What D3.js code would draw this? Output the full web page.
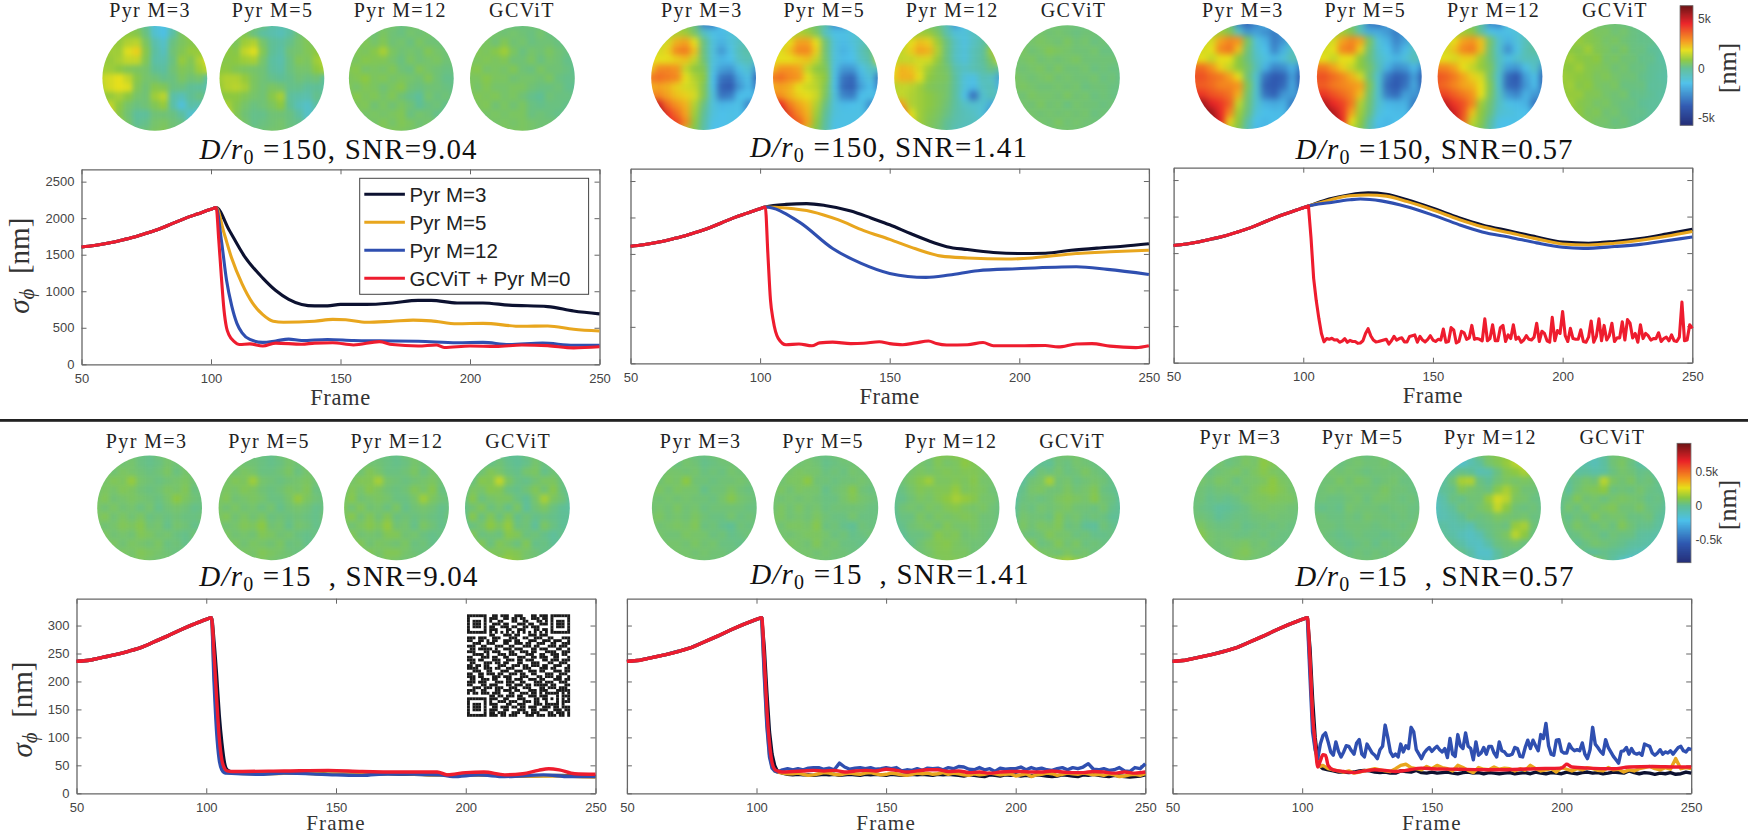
<!DOCTYPE html>
<html>
<head>
<meta charset="utf-8">
<title>Wavefront error over frames</title>
<script src="https://d3js.org/d3.v7.min.js"></script>
<style>
	html, body { margin: 0; padding: 0; background: #fff; }
	svg { display: block; }
	text { white-space: pre; }
</style>
</head>
<body>
<div id="chart"></div>
<script>
// ticks and labels
const frameTicks = [50, 100, 150, 200, 250];
const topTicks = [0, 500, 1000, 1500, 2000, 2500];
const bottomTicks = [0, 50, 100, 150, 200, 250, 300];
const mapLabels = ["Pyr M=3", "Pyr M=5", "Pyr M=12", "GCViT"];
const legendLabels = ["Pyr M=3", "Pyr M=5", "Pyr M=12", "GCViT + Pyr M=0"];
const seriesColors = ["#0c1130", "#e8a61e", "#2f4fb0", "#ee1c2e"];

// open loop part, the same in every panel of a row
const topRamp = [[50,1605],[55,1625],[60,1656],[65,1695],[70,1738],[75,1793],[80,1852],[85,1925],[90,1998],[95,2060],[100,2121]];
const bottomRamp = [[50,236],[55,238],[60,243],[65,248],[70,254],[75,261],[80,271],[85,281],[90,292],[95,302],[100,311]];

// D/r0=150, SNR=9.04
const p1Black = [[102,2144],[107,1838],[113,1474],[120,1180],[125,1010],[130,890],[135,820],[140,800],[145,800],[150,820],[160,820],[170,840],[180,875],[185,875],[195,840],[205,840],[215,810],[230,790],[240,730],[250,690]];
const p1Orange = [[102,2144],[105,1800],[108,1450],[112,1100],[116,840],[120,680],[124,590],[128,575],[140,590],[147,615],[152,610],[160,575],[170,590],[178,605],[185,595],[195,555],[205,560],[220,520],[230,525],[240,480],[250,455]];
const p1Blue = [[102,2144],[104,1700],[106,1150],[108,800],[110,560],[112,430],[115,340],[120,300],[125,320],[130,345],[135,325],[145,340],[155,325],[165,320],[180,315],[195,295],[205,300],[215,270],[228,290],[240,260],[250,260]];
const p1Red = [[102,2144],[103,1700],[104,1200],[105,750],[106,500],[107,400],[109,310],[111,270],[115,280],[120,250],[125,290],[135,275],[140,290],[147,295],[155,265],[165,310],[170,270],[180,250],[187,265],[190,230],[200,250],[210,245],[220,265],[230,255],[240,225],[250,240]];

// D/r0=150, SNR=1.41
const p2Black = [[102,2144],[110,2180],[118,2190],[125,2165],[135,2090],[143,1990],[150,1900],[158,1780],[165,1680],[172,1600],[180,1560],[190,1520],[200,1505],[210,1510],[220,1550],[230,1580],[240,1605],[250,1640]];
const p2Orange = [[102,2144],[110,2130],[120,2080],[130,1970],[140,1820],[150,1700],[160,1570],[170,1470],[180,1445],[195,1430],[205,1445],[220,1500],[235,1530],[250,1550]];
const p2Blue = [[102,2144],[115,1940],[128,1575],[139,1370],[150,1233],[164,1178],[173,1210],[184,1270],[199,1297],[222,1324],[234,1288],[250,1219]];
const p2Red = [[102,2144],[103,1500],[104,870],[105,600],[107,342],[110,255],[115,265],[120,240],[123,280],[128,290],[135,270],[140,275],[146,295],[150,270],[155,255],[160,280],[165,305],[168,270],[172,250],[180,255],[186,285],[190,240],[200,240],[210,245],[215,225],[222,265],[228,270],[235,235],[245,215],[250,240]];

// D/r0=150, SNR=0.57
const p3Black = [[102,2144],[110,2240],[118,2300],[125,2325],[132,2305],[140,2230],[150,2114],[160,1985],[169,1886],[180,1800],[190,1720],[200,1650],[210,1635],[220,1660],[230,1700],[240,1760],[250,1826]];
const p3Orange = [[102,2144],[110,2225],[118,2285],[125,2295],[132,2280],[140,2205],[150,2090],[160,1960],[169,1860],[180,1775],[190,1695],[200,1625],[210,1612],[220,1635],[230,1675],[240,1730],[250,1795]];
const p3Blue = [[102,2144],[110,2190],[118,2230],[122,2240],[130,2215],[140,2135],[150,2020],[160,1890],[169,1790],[180,1715],[190,1640],[200,1580],[208,1565],[220,1590],[230,1620],[240,1670],[250,1720]];
const p3RedDrop = [[102,2144],[103,1700],[104,1155],[105,850],[106,607],[107,400]];
const p3RedTail = [285,330,320,335,310,315,280,295,330,280,305,290,290,265,270,300,400,465,370,310,285,290,300,310,320,255,300,360,310,330,340,285,285,360,370,380,280,360,310,285,320,370,310,290,320,310,460,280,290,480,450,270,290,430,410,320,340,510,320,330,320,300,600,300,330,520,300,300,480,510,290,380,330,520,320,350,280,310,370,320,310,350,540,290,430,400,300,280,620,300,440,400,700,370,290,470,330,320,320,450,290,280,350,570,280,360,600,300,510,310,370,540,290,340,340,560,310,590,540,340,400,280,520,330,400,370,310,330,330,410,290,330,350,300,380,300,290,350,830,300,310,520,470,310];

// D/r0=15, SNR=9.04
const p4Black = [[102,314],[103,270],[104,210],[105,140],[106,90],[107,55],[108,42],[110,38],[120,36],[135,37],[150,34],[170,35],[190,33],[205,33],[220,31],[235,32],[250,30]];
const p4Orange = [[102,314],[103,220],[104,130],[105,70],[106,46],[107,38],[110,36],[120,35],[135,36],[150,34],[170,36],[190,33],[205,33],[220,31],[235,31],[250,29]];
const p4Blue = [[102,314],[103,200],[104,110],[105,60],[106,42],[107,37],[108,36],[120,34],[130,36],[150,33],[160,32],[170,35],[190,33],[195,30],[205,33],[215,30],[230,33],[240,30],[250,30]];
const p4Red = [[102,314],[103,250],[104,170],[105,100],[106,60],[107,45],[108,40],[110,39],[130,40],[147,41],[160,39],[175,38],[189,38],[193,33],[200,37],[207,38],[215,33],[222,35],[228,41],[232,44],[236,42],[242,35],[250,34]];

// D/r0=15, SNR=1.41, the tails are read every second frame
const p5BlackDrop = [[102,314],[103,260],[104,180],[105,110],[106,70],[107,50]];
const p5OrangeDrop = [[102,314],[103,220],[104,125],[105,70],[106,48],[107,40]];
const p5BlueDrop = [[102,314],[103,210],[104,120],[105,65],[106,45],[107,40]];
const p5RedDrop = [[102,314],[103,240],[104,150],[105,90],[106,55],[107,43]];
const p5BlackTail = [40,36,34,33,34,33,33,32,33,34,33,34,32,33,34,33,32,34,33,34,33,32,34,33,32,33,34,33,34,33,32,34,33,34,33,32,31,33,32,31,30,33,32,31,33,32,33,31,32,31,33,32,31,30,31,33,32,31,30,33,32,34,32,31,30,32,31,30,29,30,31,33];
const p5OrangeTail = [38,36,35,35,36,34,32,33,35,37,36,34,33,35,36,35,34,36,37,35,33,34,36,35,33,32,34,36,35,36,34,35,37,34,36,35,33,32,35,33,34,36,35,33,34,35,31,33,35,30,33,34,36,35,32,34,36,35,34,36,35,33,34,32,35,33,30,31,33,34,32,35];
const p5BlueTail = [38,42,44,42,44,42,45,46,46,43,45,42,54,47,43,45,46,44,46,43,44,46,44,46,40,42,41,44,41,45,44,45,42,46,44,48,47,43,42,46,42,44,39,45,43,44,44,47,42,46,43,45,42,41,44,46,42,46,44,47,53,43,42,44,41,42,46,40,39,46,44,53];
const p5Red = [[108,40],[110,38],[114,39],[118,40],[122,41],[126,40],[130,41],[134,38],[138,40],[142,41],[146,40],[150,43],[154,41],[158,38],[162,40],[166,42],[170,42],[174,39],[178,40],[182,37],[186,38],[190,36],[194,38],[198,39],[202,39],[206,38],[210,38],[214,40],[218,38],[222,37],[226,37],[230,39],[234,38],[238,36],[242,38],[246,36],[250,38]];

// D/r0=15, SNR=0.57
const p6BlackDrop = [[102,314],[103,260],[104,170],[105,100],[106,60],[107,48]];
const p6OrangeDrop = [[102,314],[103,230],[104,130],[105,80],[106,52],[107,48]];
const p6BlueDrop = [[102,314],[103,210],[104,110],[105,78]];
const p6Red = [[102,314],[103,240],[104,140],[105,90],[106,47],[107,58],[108,69],[109,68],[110,50],[112,42],[116,39],[120,37],[124,40],[128,42],[132,41],[136,39],[140,41],[146,45],[150,44],[160,43],[175,42],[190,44],[200,45],[202,52],[204,47],[210,45],[220,44],[226,47],[235,48],[245,47],[250,47]];
const p6BlackTail = [44,42,40,38,38,37,38,40,41,40,38,37,38,36,36,40,39,38,41,37,36,38,36,37,38,36,35,37,38,36,37,35,37,36,35,36,37,35,36,37,35,38,36,35,37,36,35,38,36,35,37,38,36,37,35,36,38,37,36,40,37,35,37,36,34,36,35,37,34,35,38,36,38];
const p6OrangeTail = [50,44,42,40,38,40,36,38,40,42,44,42,40,39,44,50,52,46,44,42,48,44,50,46,44,40,50,46,41,37,46,43,42,47,43,45,44,40,44,41,50,44,40,42,44,38,46,43,40,44,42,46,44,41,40,46,42,43,38,42,40,44,46,48,44,42,46,43,62,44,46,44,44];
const p6BlueTail = [62,88,103,108,92,74,68,92,75,65,74,85,84,76,70,90,96,70,65,88,80,72,68,62,78,84,122,100,74,66,70,65,88,74,85,80,118,110,78,70,62,72,78,82,75,80,84,78,74,80,64,98,70,66,105,85,80,108,84,80,60,92,68,72,82,70,84,84,72,65,92,76,74,68,68,70,82,80,66,65,82,95,80,95,85,76,105,98,125,85,70,68,95,96,75,72,72,88,80,76,78,76,90,70,62,78,118,88,82,75,70,96,82,74,66,60,54,75,76,82,70,80,72,70,72,68,88,86,84,72,68,72,78,70,74,72,76,70,76,82,84,76,74,80,78];

// phase maps, tenths of a colorbar step: 10 = 1k nm in the top row, 0.1k nm in the bottom row
const p1Map3 = [[6,6,6,6,4,0,-12,-14,-6,4,6,6,6],[7,7,7,8,7,2,-10,-14,-3,5,9,7,6],[9,9,9,12,13,5,-4,-9,2,5,7,6,5],[10,10,10,17,20,7,-2,-7,3,6,9,9,8],[9,9,11,14,14,6,-3,-4,2,9,6,12,18],[10,10,8,6,5,4,0,-2,3,6,5,10,14],[14,16,18,14,7,4,3,1,2,5,3,4,-3],[13,16,18,17,6,3,7,6,2,2,0,-1,-4],[8,9,11,8,4,3,10,13,-3,-6,0,2,-2],[12,14,8,4,2,3,6,9,-3,-12,-3,-4,-4],[18,20,7,3,-1,-1,3,3,2,-2,-10,-12,-8],[16,17,10,4,0,1,4,5,3,2,-10,-8,-6],[7,7,7,5,3,3,5,6,3,0,-2,-2,-2]];
const p1Map5 = [[6,6,6,5,4,2,-3,-4,-3,2,5,4,4],[6,6,6,6,2,-2,-4,-6,-2,3,6,6,5],[7,7,5,10,12,4,0,-2,1,4,6,5,4],[8,8,7,14,17,6,0,-3,3,4,6,8,8],[7,7,8,10,11,4,-2,-4,2,6,5,10,14],[8,8,6,5,4,3,-1,-3,2,4,4,8,11],[10,12,12,9,5,3,1,0,1,3,2,3,-2],[9,12,13,11,5,3,5,4,1,1,-1,0,-2],[7,8,8,6,4,3,7,11,-1,-3,-4,1,-2],[10,11,7,4,2,3,5,8,0,-6,-9,-2,-3],[15,16,6,3,1,1,3,3,2,-2,-9,-7,-6],[12,13,8,4,1,2,3,4,2,1,-6,-5,-4],[6,6,6,4,3,3,4,4,3,1,-1,-1,-1]];
const p1Map12 = [[4,4,4,4,3,4,2,3,4,3,3,3,3],[4,5,4,3,5,3,2,4,3,4,2,3,3],[5,4,6,4,6,3,4,2,5,3,3,2,3],[4,6,5,7,11,5,3,4,3,6,4,3,2],[5,5,7,6,6,4,2,5,3,4,5,3,3],[6,7,4,5,4,6,3,2,6,4,3,2,2],[5,6,8,5,6,4,5,4,3,6,3,1,1],[6,4,6,5,3,5,7,3,2,3,3,2,1],[5,7,5,6,4,6,3,1,-1,4,2,3,1],[6,5,6,3,5,3,5,3,0,2,3,1,1],[5,6,4,5,4,5,6,2,4,3,1,0,2],[4,4,5,4,6,4,6,5,3,4,3,2,3],[4,4,4,5,5,6,5,4,4,3,3,3,3]];
const p1MapGc = [[4,4,4,3,3,2,2,3,2,1,0,0,0],[4,5,4,4,3,4,3,2,4,2,2,1,0],[5,4,5,3,6,3,4,2,3,3,2,1,1],[5,6,5,7,10,5,2,4,3,5,3,2,1],[5,5,6,5,6,3,3,5,2,4,3,1,1],[6,7,4,5,4,6,3,2,5,3,3,2,0],[5,5,7,5,5,3,4,4,3,5,2,1,1],[6,4,6,4,4,5,5,3,2,2,3,1,0],[5,6,5,6,4,5,3,1,0,3,2,2,1],[5,5,6,3,5,3,5,2,1,2,2,1,1],[5,5,4,5,4,5,5,2,3,2,1,1,2],[4,4,5,4,5,4,5,4,3,3,3,2,3],[4,4,4,5,5,5,5,4,3,3,3,3,3]];

const p2Map3 = [[10,10,10,8,6,2,-28,-30,-15,-12,-10,-10,-10],[10,10,10,12,10,4,-8,-14,-16,-12,-10,-8,-8],[14,14,16,24,26,18,2,-12,-18,-12,-8,-5,-5],[16,16,20,30,32,22,2,-12,-24,-14,-6,-3,-5],[18,18,18,20,22,14,3,-12,-17,-15,-8,-5,-10],[20,30,30,28,14,8,6,-13,-22,-24,-14,-10,-25],[32,34,32,30,18,12,8,-15,-32,-34,-20,-14,-36],[24,26,24,20,16,14,6,-14,-36,-38,-24,-16,-30],[30,30,26,22,20,16,6,-12,-32,-30,-15,-15,-18],[55,48,34,28,24,12,2,-12,-17,-16,-14,-28,-26],[62,58,42,34,26,10,0,-12,-15,-14,-15,-22,-20],[55,50,44,40,30,8,-2,-14,-15,-14,-14,-14,-14],[40,40,40,30,12,6,-3,-15,-15,-14,-14,-14,-14]];
const p2Map5 = [[9,9,9,8,6,3,-3,-26,-26,-12,-10,-8,-8],[10,10,10,12,10,5,-8,-14,-14,-12,-9,-5,-2],[14,14,18,26,26,18,3,-12,-16,-12,-8,-2,8],[16,17,22,30,30,20,3,-12,-18,-14,-6,0,14],[18,18,18,20,22,14,4,-12,-16,-15,-8,-3,16],[22,28,28,26,14,8,6,-13,-24,-24,-14,-8,-8],[32,34,30,28,18,12,8,-14,-32,-35,-18,-12,-32],[24,26,24,18,15,13,6,-14,-34,-36,-22,-15,-28],[30,28,24,20,18,15,5,-12,-28,-30,-15,-14,-16],[50,44,32,26,22,12,2,-12,-16,-15,-14,-26,-26],[58,52,38,30,24,10,0,-12,-14,-14,-14,-22,-18],[50,46,40,36,26,8,-2,-14,-14,-14,-14,-14,-14],[36,36,36,28,12,6,-3,-14,-14,-14,-14,-14,-14]];
const p2Map12 = [[6,6,6,6,4,2,-6,-24,-14,-8,-6,-6,-6],[7,7,8,10,9,5,-4,-12,-12,-8,-6,-2,2],[10,12,18,22,20,10,2,-8,-13,-8,-3,2,18],[12,14,20,26,24,12,2,-8,-12,-6,-2,10,32],[14,14,14,16,16,9,2,-8,-12,-6,-1,5,16],[18,24,22,16,10,6,4,-4,-8,-5,-3,2,-2],[20,24,24,18,8,6,5,-2,-12,-14,-6,-8,-22],[12,14,13,10,6,5,4,-2,-12,-16,-8,-6,-18],[14,14,12,10,8,6,4,-2,-14,-34,-10,-6,-8],[34,26,12,10,8,6,3,-2,-8,-10,-10,-20,-18],[44,40,18,10,7,5,2,-3,-6,-8,-12,-26,-16],[36,36,20,10,6,4,0,-4,-6,-7,-8,-8,-8],[18,18,16,10,6,3,0,-6,-8,-8,-8,-8,-8]];
const p2MapGc = [[3,3,3,3,4,3,3,3,2,2,1,1,1],[3,4,3,4,3,4,3,2,3,3,2,1,1],[4,3,4,5,4,3,5,3,4,2,3,2,1],[4,5,3,4,6,5,4,3,3,4,2,2,2],[3,4,5,3,4,3,4,5,3,3,3,3,2],[4,3,4,5,3,5,3,3,4,2,3,2,2],[5,4,3,4,5,3,4,3,3,4,2,3,1],[4,5,4,3,3,4,3,4,2,3,3,2,2],[4,3,5,4,4,3,5,3,4,2,3,2,1],[3,4,3,5,3,4,2,4,3,3,2,3,2],[4,4,4,3,4,3,4,3,4,2,3,2,2],[3,3,4,4,3,5,3,4,3,3,2,2,2],[3,3,3,4,4,3,4,3,3,2,2,2,2]];

const p3Map3 = [[10,10,10,8,3,-28,-36,-28,-18,-15,-15,-15,-15],[10,10,10,10,6,-8,-25,-22,-26,-30,-25,-17,-15],[12,15,16,26,30,28,5,-12,-18,-30,-25,-10,-8],[14,16,18,30,33,22,3,-10,-15,-28,-18,-8,-5],[18,18,14,18,18,8,2,-8,-13,-17,-12,-5,-8],[34,34,28,20,14,8,4,-6,-18,-28,-26,-18,-30],[38,38,34,32,26,18,3,-10,-32,-38,-36,-22,-38],[36,36,34,30,30,28,6,-10,-36,-38,-34,-20,-36],[42,42,38,36,33,24,4,-10,-32,-36,-24,-22,-28],[58,55,46,42,36,14,3,-10,-18,-20,-18,-30,-28],[60,60,55,44,30,10,2,-12,-15,-16,-16,-30,-28],[60,60,60,46,20,8,-3,-15,-17,-15,-17,-22,-22],[40,40,40,30,12,6,-5,-17,-17,-15,-15,-15,-15]];
const p3Map5 = [[10,10,9,8,3,-6,-30,-34,-24,-17,-15,-15,-15],[10,10,10,10,6,-6,-20,-20,-24,-30,-22,-15,-14],[12,14,16,26,30,26,5,-12,-18,-28,-22,-10,-8],[14,16,18,30,32,20,3,-10,-15,-24,-16,-8,-5],[18,18,14,18,18,8,2,-8,-13,-17,-12,-6,-10],[32,32,26,20,14,8,4,-6,-18,-26,-24,-16,-28],[38,38,34,30,24,16,3,-10,-30,-37,-34,-22,-38],[36,36,32,30,28,26,6,-10,-34,-38,-32,-20,-36],[42,42,38,34,30,22,4,-10,-30,-34,-22,-24,-28],[55,52,44,40,32,12,3,-10,-17,-18,-18,-30,-30],[60,60,52,42,26,10,2,-12,-15,-16,-16,-30,-26],[58,58,58,44,18,8,-3,-15,-17,-15,-16,-22,-22],[38,38,38,28,12,6,-5,-17,-17,-15,-15,-15,-15]];
const p3Map12 = [[9,9,9,8,4,-2,-26,-30,-12,-10,-8,-8,-8],[10,10,10,10,8,-2,-14,-16,-14,-12,-8,-5,-4],[12,14,18,26,28,22,4,-10,-18,-12,-6,-2,-2],[14,16,22,30,32,22,3,-10,-26,-14,-5,-2,-4],[18,18,16,20,20,10,3,-8,-14,-10,-6,-6,-8],[30,30,26,18,14,9,5,-8,-22,-24,-14,-8,-26],[38,36,32,26,20,16,4,-10,-34,-38,-22,-14,-36],[36,34,30,26,24,18,6,-10,-34,-36,-24,-16,-34],[40,40,36,32,28,18,5,-8,-24,-28,-18,-24,-26],[52,50,42,38,30,10,3,-8,-14,-16,-18,-32,-28],[60,58,48,38,22,8,2,-10,-12,-14,-15,-22,-20],[56,54,52,36,14,7,-2,-14,-15,-14,-15,-15,-15],[36,36,34,24,10,5,-4,-15,-15,-14,-14,-14,-14]];
const p3MapGc = [[6,6,6,5,4,3,3,2,1,0,-1,-2,-2],[7,7,6,7,5,5,3,4,2,1,0,-2,-3],[8,8,9,7,6,4,5,3,2,1,1,-1,-3],[9,8,7,10,6,5,3,5,2,2,0,-1,-3],[8,10,8,7,8,4,5,3,3,1,1,-2,-3],[9,8,10,7,6,5,3,4,2,2,0,-1,-3],[10,9,8,7,5,6,4,3,3,1,0,-2,-3],[9,10,7,8,5,4,5,2,2,2,-1,-1,-3],[8,9,9,6,6,4,3,4,1,1,0,-2,-2],[7,10,7,6,4,5,3,2,2,0,-1,-1,-2],[7,8,8,5,6,3,4,2,1,1,-1,-2,-2],[6,6,7,6,4,4,2,3,1,0,0,-1,-2],[6,6,6,5,4,3,3,2,1,0,-1,-1,-1]];

const p4Map3 = [[4,4,4,3,3,2,1,3,4,4,4,4,4],[4,4,5,3,4,2,1,2,4,3,4,4,4],[4,5,3,5,4,3,2,3,5,2,4,3,3],[5,4,6,5,9,4,3,2,3,4,5,3,3],[3,5,4,6,5,3,2,3,5,4,6,2,3],[4,6,3,4,5,4,3,2,4,8,5,3,2],[5,3,5,3,4,2,4,1,3,4,3,1,2],[4,6,3,5,3,5,2,3,2,3,2,2,3],[5,3,4,6,5,7,3,4,1,4,3,1,2],[3,5,3,4,3,6,5,3,4,2,1,3,2],[4,4,5,3,5,4,3,5,2,3,1,2,3],[3,4,3,5,4,6,5,4,3,2,3,3,3],[3,3,4,3,4,5,4,3,4,3,3,3,3]];
const p4Map5 = [[4,4,4,3,2,2,1,3,4,4,4,4,4],[4,4,5,3,3,2,1,2,4,3,4,4,4],[4,5,3,5,4,2,2,3,5,2,4,3,3],[5,4,6,5,10,4,3,2,3,4,5,3,2],[3,5,4,6,5,3,2,3,5,4,6,2,2],[4,6,3,4,5,4,2,2,4,9,5,3,2],[5,3,5,3,4,2,4,1,3,4,3,1,2],[4,6,3,5,3,5,2,3,2,3,2,1,3],[5,3,4,6,5,8,3,4,1,4,3,1,2],[3,5,3,4,3,6,5,3,4,2,1,2,2],[4,4,5,3,5,4,3,5,2,3,1,1,3],[3,4,3,5,4,6,5,4,3,2,3,3,3],[3,3,4,3,4,5,4,3,4,3,3,3,3]];
const p4Map12 = [[4,4,4,3,2,2,1,3,4,4,4,4,4],[4,5,5,3,3,2,1,2,4,3,4,4,4],[4,5,3,6,4,2,2,3,5,2,4,3,3],[6,4,6,6,11,4,3,2,3,4,5,3,2],[3,6,4,7,5,3,2,3,6,4,7,2,2],[4,7,3,4,5,4,2,2,4,10,5,3,2],[6,3,6,3,4,2,5,1,3,4,3,1,2],[4,7,3,6,3,6,2,3,2,3,2,1,3],[6,3,5,7,5,9,3,4,1,5,3,1,2],[3,6,3,4,3,6,6,3,4,2,1,2,2],[4,5,6,3,5,4,3,5,2,3,1,1,3],[3,4,3,6,4,6,6,4,3,2,3,3,3],[3,3,4,3,4,5,4,3,4,3,3,3,3]];
const p4MapGc = [[3,3,2,1,1,0,0,2,3,2,1,1,1],[3,1,3,1,3,1,0,1,4,2,2,0,0],[2,0,3,6,4,2,1,4,5,1,3,1,0],[1,2,7,6,14,5,2,1,3,5,5,2,0],[0,5,4,7,6,2,1,3,6,3,7,2,-1],[1,7,2,4,5,5,2,0,4,11,5,3,-2],[1,3,6,2,4,1,5,-1,3,5,2,0,-2],[0,7,2,6,2,6,1,3,1,2,1,0,0],[1,2,4,8,5,9,2,3,-1,5,2,0,-1],[1,6,2,3,2,7,6,2,3,1,-1,1,-1],[2,3,6,2,6,4,2,6,1,2,0,-1,1],[4,4,3,6,5,7,6,4,3,1,2,1,2],[5,5,6,5,8,9,7,4,3,3,2,2,2]];

const p5Map3 = [[3,3,3,3,3,2,2,3,4,3,3,3,3],[3,4,3,2,4,3,1,2,3,3,2,3,3],[3,3,4,4,3,4,2,3,2,4,3,2,2],[4,3,5,4,8,3,3,2,3,3,4,3,3],[3,5,3,5,4,4,1,3,3,5,3,2,3],[4,3,4,3,4,3,3,2,4,7,4,3,2],[3,4,3,5,3,4,2,3,3,3,3,2,2],[4,5,3,4,3,5,3,2,2,4,2,3,2],[5,3,4,5,4,6,2,3,1,0,3,2,3],[3,4,3,3,5,4,4,2,3,1,2,3,2],[3,3,4,4,3,5,3,4,2,2,1,2,3],[3,3,3,4,4,3,4,3,3,2,3,3,3],[3,3,3,3,4,4,3,3,3,3,3,3,3]];
const p5Map5 = [[3,3,3,3,3,2,2,3,4,3,3,3,3],[3,4,3,3,4,3,1,2,3,3,3,3,3],[3,3,4,5,4,4,2,3,2,4,3,2,2],[4,3,5,5,8,3,3,2,3,3,4,3,2],[3,5,3,5,4,4,1,3,4,7,3,2,3],[4,3,4,3,4,3,2,2,4,6,4,3,2],[3,5,3,5,3,4,2,3,3,3,3,2,2],[4,5,3,4,3,5,3,2,2,4,2,2,2],[5,3,5,5,4,7,2,3,1,0,3,2,2],[3,4,3,4,5,5,4,2,3,1,2,3,2],[3,3,5,4,3,6,3,4,2,2,1,1,3],[3,3,3,4,4,3,4,3,3,2,3,3,3],[3,3,3,3,4,4,3,3,3,3,3,3,3]];
const p5Map12 = [[3,3,3,3,4,6,6,7,6,5,4,3,3],[2,2,3,4,3,6,4,5,8,6,4,4,3],[1,2,4,5,4,5,6,5,6,6,5,3,3],[1,3,5,7,10,5,5,6,5,7,4,4,2],[0,2,4,6,5,6,6,9,5,6,5,3,3],[1,1,3,5,4,6,8,11,9,7,4,4,2],[0,3,4,3,5,4,6,7,5,4,5,3,2],[0,2,2,5,3,5,4,5,6,5,3,3,2],[-1,1,3,4,5,3,6,4,4,5,3,3,2],[0,0,2,2,3,7,5,6,3,4,3,2,2],[1,-1,1,3,5,6,7,5,4,3,3,2,3],[2,1,3,3,4,6,6,5,5,3,3,3,3],[3,3,3,4,5,5,6,6,4,3,3,3,3]];
const p5MapGc = [[3,3,5,4,3,3,4,4,3,3,2,2,2],[4,6,2,0,0,3,2,4,3,2,1,0,1],[3,0,-1,3,2,4,2,3,5,3,2,0,-1],[0,-1,3,4,11,3,4,2,3,4,3,1,-1],[-2,1,4,5,3,3,5,3,4,6,2,1,-2],[-3,2,3,2,3,5,6,5,4,7,3,2,-2],[-1,3,2,4,3,4,5,3,3,2,4,1,-1],[0,4,3,3,2,6,3,4,2,3,2,0,0],[1,5,3,5,4,6,2,3,0,-1,3,1,-1],[2,3,2,3,6,4,4,2,3,1,1,2,0],[3,5,6,2,3,6,3,5,2,3,2,1,1],[3,4,8,5,4,3,5,3,4,2,3,2,2],[3,3,6,7,6,9,11,8,4,3,2,2,2]];

const p6Map3 = [[3,3,3,3,3,3,4,4,6,4,3,3,3],[3,3,3,4,2,3,5,4,8,6,4,3,3],[3,3,2,3,4,5,3,5,7,5,4,3,3],[3,4,3,5,4,2,4,4,5,8,5,4,3],[3,3,2,3,3,4,3,5,7,8,6,4,3],[2,3,1,2,1,2,4,5,5,6,5,5,3],[3,2,1,-1,0,1,2,4,5,4,4,3,3],[3,3,2,0,1,2,2,3,3,4,3,3,2],[4,5,3,2,2,3,1,2,3,2,3,2,2],[6,7,4,3,3,2,2,3,2,3,2,2,3],[3,6,4,3,4,4,5,3,4,2,2,2,3],[3,3,3,3,3,5,6,4,3,3,2,3,3],[3,3,3,3,4,5,4,3,3,3,3,3,3]];
const p6Map5 = [[3,3,3,3,3,3,2,3,3,3,2,2,2],[3,3,3,2,3,4,3,3,4,2,2,2,1],[3,2,4,3,4,3,2,3,3,3,3,1,1],[3,3,3,5,3,5,4,2,3,4,2,2,1],[2,3,4,3,4,3,3,3,5,3,3,2,1],[2,3,2,2,3,4,2,4,4,3,2,3,1],[2,1,2,1,4,3,3,3,2,3,3,2,2],[3,3,2,2,3,2,4,3,3,2,3,2,3],[3,3,3,2,3,3,3,2,3,3,2,3,4],[3,3,2,1,2,3,2,2,1,2,3,3,4],[3,2,3,2,1,2,3,1,3,2,2,3,3],[3,3,3,3,2,3,2,3,2,3,3,3,3],[3,3,3,3,3,3,3,3,3,3,3,3,3]];
const p6Map12 = [[2,2,-3,-6,-4,3,5,7,8,9,9,8,8],[0,-3,-7,-10,-5,-1,4,6,9,13,16,8,7],[-2,-3,-2,1,0,-5,-4,2,6,8,11,9,3],[-3,-2,3,11,12,2,0,3,5,4,5,4,2],[-5,0,1,6,4,3,2,7,11,6,3,3,1],[-7,-3,2,1,3,3,9,16,13,5,4,2,1],[-8,-4,-1,3,2,4,6,14,8,3,2,3,1],[-6,-5,-3,0,3,2,3,5,4,3,4,2,2],[-3,-2,-4,-3,-5,1,2,3,2,9,11,3,1],[3,-1,-3,-6,-8,-5,1,3,5,13,8,2,1],[16,4,0,-3,-7,-8,-3,2,3,4,2,1,2],[8,10,3,1,-3,-9,-9,-2,2,1,1,2,3],[4,4,3,2,-2,-6,-7,-2,2,2,2,2,2]];
const p6MapGc = [[8,8,3,-2,-4,-1,3,3,4,3,-4,-8,-8],[20,14,0,-4,-6,-2,3,5,2,-2,-10,-14,-10],[30,6,-2,-1,-3,-2,2,4,3,1,2,-8,-10],[16,0,2,4,3,13,5,3,5,2,3,1,-3],[4,-1,3,5,6,8,2,3,2,4,2,1,-1],[1,2,6,3,4,2,4,5,4,3,1,2,0],[0,4,2,5,3,5,6,3,3,5,2,1,-1],[3,1,3,2,6,3,4,4,2,2,3,0,-2],[4,2,5,3,2,4,2,6,3,1,1,-1,-3],[5,1,2,4,3,1,3,2,2,-1,-2,-3,-5],[10,4,0,2,4,3,2,1,-1,-2,-3,-6,-6],[12,18,6,0,-1,1,0,-2,-4,-6,-8,-4,-3],[10,30,45,36,8,2,-2,-8,-14,-12,-6,-3,-2]];

// colorbar scale, same fractions for both rows
const colorStops = [-57,-38,-15,0,8,18,27,45,63];
const colorValues = ["#262f78","#2f58b0","#4cc0ea","#5fbf95","#8cc840","#e6df1a","#f59a1d","#ea2228","#691416"];
const topBarTicks = [50, 0, -50];
const topBarLabels = ["5k", "0", "-5k"];
const bottomBarTicks = [50, 0, -50];
const bottomBarLabels = ["0.5k", "0", "-0.5k"];

// QR code modules
const qrRows = [
"#######..##.###..###...##.###.#######",
"#.....#.###..##.##.##..###.##.#.....#",
"#.###.#.#..##...##..##...##.#.#.###.#",
"#.###.#..###.##...###.##..###.#.###.#",
"#.###.#.##..###.##..##.###....#.###.#",
"#.....#.###...##..###...##.##.#.....#",
"#######.#.#.#.#.#.#.#.#.#.#.#.#######",
"........##...###.##...###.###........",
"###.###..###...###..##..###..##...###",
"##..##.#.##..###.##...###..###.###..#",
"..###..###...##..###.##..###..##..###",
"###..##...###..##...###.##...###.###.",
".##.#####.#..###.###...##.###...##..#",
"###...##.###...##..###.##...####..###",
"..####.#...###.###...###..##..###.##.",
"##...###.##..##...###..##.###..##...#",
"###.##...###..###.##.###...##.###.###",
".##...###.##.##...##...###...##..###.",
"##.##.##...###..###.##.###.##..###..#",
"####..###.##..###...###...###.##...##",
"..###..##...###..###..###.##...###.##",
"##..##.###.##..###.##..##...###..###.",
"###.##...###.###...###...##.###.##..#",
".##..###.##...##.###..###.##...###.##",
"###.###...###.###..##...###.###..###.",
"##...##.###...##.###.##.#####.##...##",
"..###.###.###..###..###...##.###.###.",
"###..##...##.###.##...###.###...#####",
"#.##.###.###...##..###.##.#.#####.#.#",
"........##.##.###.##..###.###...#.###",
"#######.###..##...###...##.##.#.#.#.#",
"#.....#.#..###.###..###.##..#...#.###",
"#.###.#.###...##..###...###.#####.#..",
"#.###.#..##.###.##.##.###..###.##.###",
"#.###.#.###..##...###..##.###..###.##",
"#.....#.##.###..###.##.###...##.###.#",
"#######.###.##.###...###.###.###.##.#"
];

const tailFrames = d3.range(108, 251, 2);
const everyFrame = d3.range(106, 251);
const redFrames = d3.range(108, 251);

const seriesP3Red = p3RedDrop.concat(d3.zip(redFrames, p3RedTail));
const seriesP5 = [
	p5BlackDrop.concat(d3.zip(tailFrames, p5BlackTail)),
	p5OrangeDrop.concat(d3.zip(tailFrames, p5OrangeTail)),
	p5BlueDrop.concat(d3.zip(tailFrames, p5BlueTail)),
	p5RedDrop.concat(p5Red)
];
const seriesP6 = [
	p6BlackDrop.concat(d3.zip(tailFrames, p6BlackTail)),
	p6OrangeDrop.concat(d3.zip(tailFrames, p6OrangeTail)),
	p6BlueDrop.concat(d3.zip(everyFrame, p6BlueTail)),
	p6Red
];

const panels = [
	{left: 81.5, right: 599.5, top: 169.3, bottom: 364.3, ymax: 2669, ticks: topTicks, ramp: topRamp, width: 3.1, series: [p1Black, p1Orange, p1Blue, p1Red], showY: true},
	{left: 630.5, right: 1148.9, top: 168.7, bottom: 363.3, ymax: 2669, ticks: topTicks, ramp: topRamp, width: 3.1, series: [p2Black, p2Orange, p2Blue, p2Red], showY: false},
	{left: 1173.6, right: 1692.3, top: 167.7, bottom: 362.7, ymax: 2669, ticks: topTicks, ramp: topRamp, width: 3.1, series: [p3Black, p3Orange, p3Blue, seriesP3Red], showY: false},
	{left: 76.5, right: 595.5, top: 598.7, bottom: 793.3, ymax: 348, ticks: bottomTicks, ramp: bottomRamp, width: 3.4, series: [p4Black, p4Orange, p4Blue, p4Red], showY: true},
	{left: 626.9, right: 1145.3, top: 598.7, bottom: 793.3, ymax: 348, ticks: bottomTicks, ramp: bottomRamp, width: 3.4, series: seriesP5, showY: false},
	{left: 1172.5, right: 1691.2, top: 598.7, bottom: 793.3, ymax: 348, ticks: bottomTicks, ramp: bottomRamp, width: 3.4, series: seriesP6, showY: false}
];

const mapRows = [
	{maps: [p1Map3, p1Map5, p1Map12, p1MapGc], cx: [154.8, 271.9, 401.3, 522.4], cy: 78.3, labelX: [150, 272.5, 400.3, 522], labelY: 17},
	{maps: [p2Map3, p2Map5, p2Map12, p2MapGc], cx: [703.6, 825.4, 946.6, 1067.4], cy: 77.7, labelX: [701.8, 824.3, 952.2, 1073.6], labelY: 17},
	{maps: [p3Map3, p3Map5, p3Map12, p3MapGc], cx: [1247.4, 1369.3, 1490, 1615], cy: 76.5, labelX: [1242.9, 1365.3, 1493.6, 1614.9], labelY: 17},
	{maps: [p4Map3, p4Map5, p4Map12, p4MapGc], cx: [149.6, 271, 396.5, 517.4], cy: 507.8, labelX: [146.6, 269, 396.9, 518.2], labelY: 448.3},
	{maps: [p5Map3, p5Map5, p5Map12, p5MapGc], cx: [704.3, 825.8, 947, 1067.6], cy: 507.8, labelX: [700.7, 823.2, 951, 1072.2], labelY: 448.3},
	{maps: [p6Map3, p6Map5, p6Map12, p6MapGc], cx: [1245.7, 1367, 1488.5, 1613], cy: 507.8, labelX: [1240.4, 1362.6, 1490.4, 1612.4], labelY: 444}
];

const titles = [
	{x: 338.7, y: 159, rest: " =150, SNR=9.04"},
	{x: 889, y: 157.3, rest: " =150, SNR=1.41"},
	{x: 1434.7, y: 158.7, rest: " =150, SNR=0.57"},
	{x: 339, y: 586, rest: " =15  , SNR=9.04"},
	{x: 889.9, y: 584, rest: " =15  , SNR=1.41"},
	{x: 1435, y: 586, rest: " =15  , SNR=0.57"}
];

const serif = "'Liberation Serif', serif";
const sans = "'Liberation Sans', Arial, sans-serif";
const mapRadius = 52.4;

const svg = d3.select("#chart").append("svg").attr("width", 1748).attr("height", 835);
const color = d3.scaleLinear().domain(colorStops).range(colorValues).clamp(true);

const defs = svg.append("defs");
[["soft", 2.4], ["softer", 3.1]].forEach(function (f) {
	defs.append("filter").attr("id", f[0]).attr("color-interpolation-filters", "sRGB")
		.attr("x", "-10%").attr("y", "-10%").attr("width", "120%").attr("height", "120%")
		.append("feGaussianBlur").attr("stdDeviation", f[1]);
});

// phase maps
mapRows.forEach(function (row, i) {
	row.maps.forEach(function (grid, j) {
		const cx = row.cx[j], id = "clip" + i + "_" + j;
		defs.append("clipPath").attr("id", id).append("circle").attr("cx", cx).attr("cy", row.cy).attr("r", mapRadius);
		const n = grid.length;
		const gx = d3.scaleLinear().domain([0, n]).range([cx - mapRadius - 6, cx + mapRadius + 6]);
		const gy = d3.scaleLinear().domain([0, n]).range([row.cy - mapRadius - 6, row.cy + mapRadius + 6]);
		const strong = d3.max(grid, r => d3.max(r)) > 25 && i < 3;
		const g = svg.append("g").attr("clip-path", "url(#" + id + ")").append("g")
			.attr("filter", strong ? "url(#softer)" : "url(#soft)");
		grid.forEach(function (cells, r) {
			g.selectAll(null).data(cells).enter().append("rect")
				.attr("x", (d, c) => gx(c))
				.attr("y", gy(r))
				.attr("width", gx(1) - gx(0) + 0.5)
				.attr("height", gy(1) - gy(0) + 0.5)
				.attr("fill", d => color(d));
		});
		svg.append("text").attr("x", row.labelX[j]).attr("y", row.labelY)
			.attr("text-anchor", "middle").attr("font-family", serif).attr("font-size", 20)
			.attr("letter-spacing", 1.4).attr("fill", "#222").text(mapLabels[j]);
	});
});

// titles
titles.forEach(function (t) {
	const el = svg.append("text").attr("x", t.x).attr("y", t.y).attr("text-anchor", "middle")
		.attr("font-family", serif).attr("font-size", 29).attr("letter-spacing", 1.2).attr("fill", "#111");
	el.append("tspan").attr("font-style", "italic").text("D/r");
	el.append("tspan").attr("font-size", 20).attr("dy", 5).text("0");
	el.append("tspan").attr("dy", -5).text(t.rest);
});

// line charts
panels.forEach(function (p, i) {
	const x = d3.scaleLinear().domain([50, 250]).range([p.left, p.right]);
	const y = d3.scaleLinear().domain([0, p.ymax]).range([p.bottom, p.top]);
	const g = svg.append("g");

	g.append("g").attr("transform", "translate(0," + p.bottom + ")")
		.call(d3.axisBottom(x).tickValues(frameTicks).tickSizeInner(-5).tickSizeOuter(0).tickPadding(9.5));
	g.append("g").attr("transform", "translate(0," + p.top + ")")
		.call(d3.axisTop(x).tickValues(frameTicks).tickSizeInner(-5).tickSizeOuter(0).tickFormat(""));
	g.append("g").attr("transform", "translate(" + p.left + ",0)")
		.call(d3.axisLeft(y).tickValues(p.ticks).tickSizeInner(-5).tickSizeOuter(0).tickPadding(7).tickFormat(p.showY ? d3.format("d") : ""));
	g.append("g").attr("transform", "translate(" + p.right + ",0)")
		.call(d3.axisRight(y).tickValues(p.ticks).tickSizeInner(-5).tickSizeOuter(0).tickFormat(""));
	g.selectAll(".domain").attr("stroke", "#666").attr("stroke-width", 1.3);
	g.selectAll(".tick line").attr("stroke", "#666").attr("stroke-width", 1);
	g.selectAll(".tick text").attr("font-family", sans).attr("font-size", 13).attr("fill", "#444");

	p.series.forEach(function (s, k) {
		// the long read-offs are noisy, they stay straight between points
		const line = d3.line().x(d => x(d[0])).y(d => y(d[1]))
			.curve(s.length > 50 ? d3.curveLinear : d3.curveMonotoneX);
		g.append("path").datum(p.ramp.concat(s)).attr("d", line).attr("fill", "none")
			.attr("stroke", seriesColors[k]).attr("stroke-width", p.width).attr("stroke-linejoin", "round");
	});

	const mid = (p.left + p.right) / 2;
	svg.append("text").attr("x", mid).attr("y", i < 3 ? p.bottom + 40.5 : 830.4)
		.attr("text-anchor", "middle").attr("font-family", serif).attr("font-size", i < 3 ? 22.5 : 21)
		.attr("letter-spacing", i < 3 ? 0.6 : 1.2).attr("fill", "#333").text("Frame");
});

// y labels on the left column
[{x: 29, y: 265.7}, {x: 32, y: 709.5}].forEach(function (l) {
	const el = svg.append("text").attr("transform", "translate(" + l.x + "," + l.y + ") rotate(-90)")
		.attr("text-anchor", "middle").attr("font-family", serif).attr("font-size", 29).attr("fill", "#333");
	el.append("tspan").attr("font-style", "italic").text("σ");
	el.append("tspan").attr("font-style", "italic").attr("font-size", 21).attr("dy", 5).text("ϕ");
	el.append("tspan").attr("dy", -5).text("  [nm]");
});

// legend
const legend = svg.append("g");
legend.append("rect").attr("x", 359.7).attr("y", 178.3).attr("width", 228.9).attr("height", 116)
	.attr("fill", "#fff").attr("stroke", "#444").attr("stroke-width", 1);
legendLabels.forEach(function (name, i) {
	const ly = 194.3 + i * 28;
	legend.append("line").attr("x1", 364.3).attr("x2", 404.9).attr("y1", ly).attr("y2", ly)
		.attr("stroke", seriesColors[i]).attr("stroke-width", 3);
	legend.append("text").attr("x", 409.5).attr("y", ly + 7.5).attr("font-family", sans)
		.attr("font-size", 20.5).attr("fill", "#222").text(name);
});

// colorbars
function drawBar(x0, x1, y0, y1, zero, step, ticks, labels, labelX, unitY) {
	const by = d3.scaleLinear().domain([0, 50]).range([zero, zero - step]);
	const ly = d3.scaleLinear().domain([colorStops[0], colorStops[colorStops.length - 1]]).range([y1, y0]);
	const levels = d3.range(colorStops[0], colorStops[colorStops.length - 1]);
	svg.append("g").selectAll("rect").data(levels).enter().append("rect")
		.attr("x", x0).attr("width", x1 - x0)
		.attr("y", d => ly(d + 1) - 0.3).attr("height", ly(0) - ly(1) + 0.6)
		.attr("fill", d => color(d));
	svg.append("rect").attr("x", x0).attr("y", y0).attr("width", x1 - x0).attr("height", y1 - y0)
		.attr("fill", "none").attr("stroke", "#777").attr("stroke-width", 0.8);
	ticks.forEach(function (t, i) {
		svg.append("text").attr("x", labelX).attr("y", by(t) + 4.5).attr("font-family", sans)
			.attr("font-size", 12).attr("fill", "#444").text(labels[i]);
	});
	svg.append("text").attr("transform", "translate(1736," + unitY + ") rotate(-90)")
		.attr("text-anchor", "middle").attr("font-family", serif).attr("font-size", 26).attr("fill", "#333").text("[nm]");
}
drawBar(1680, 1693, 5.7, 125.3, 68.3, 49.6, topBarTicks, topBarLabels, 1698, 68);
drawBar(1677, 1691, 443.3, 562.7, 505.7, 34.2, bottomBarTicks, bottomBarLabels, 1695.4, 505);

// qr code inset
const qx = d3.scaleLinear().domain([0, 37]).range([467, 570]);
const qy = d3.scaleLinear().domain([0, 37]).range([614.3, 716.7]);
const qr = svg.append("g").attr("fill", "#1a1a1a");
qrRows.forEach(function (row, r) {
	row.split("").forEach(function (c, k) {
		if (c === "#") qr.append("rect").attr("x", qx(k)).attr("y", qy(r))
			.attr("width", qx(1) - qx(0) + 0.1).attr("height", qy(1) - qy(0) + 0.1);
	});
});

// rule between the two rows
svg.append("rect").attr("x", 0).attr("y", 419).attr("width", 1748).attr("height", 2.8).attr("fill", "#222");
</script>
</body>
</html>
